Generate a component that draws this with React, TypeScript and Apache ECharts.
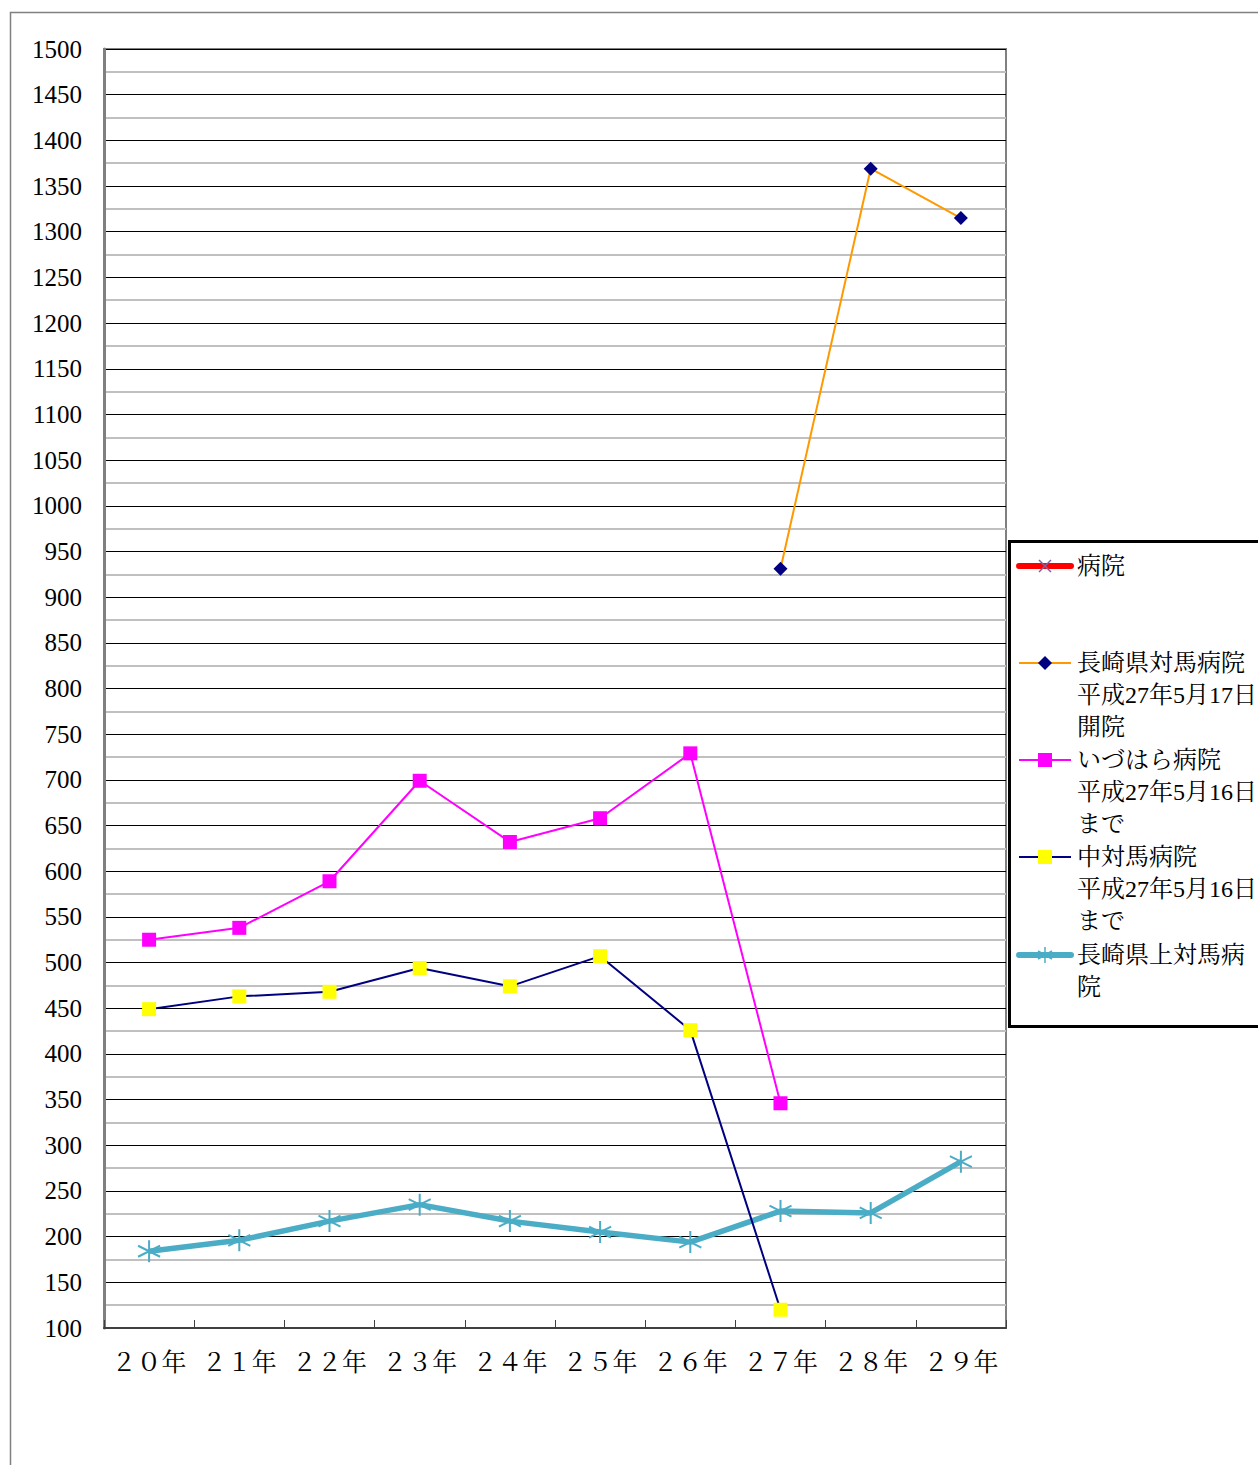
import React, { useEffect, useRef } from "react";
import * as echarts from "echarts";

const categories = ["２０年", "２１年", "２２年", "２３年", "２４年", "２５年", "２６年", "２７年", "２８年", "２９年"];
const hospital: (number | null)[] = [null, null, null, null, null, null, null, null, null, null];
const tsushimaHospital = [null, null, null, null, null, null, null, 931, 1369, 1315];
const izuharaHospital = [525, 538, 589, 699, 632, 658, 729, 346, null, null];
const nakaTsushimaHospital = [449, 463, 468, 494, 474, 507, 426, 120, null, null];
const kamiTsushimaHospital = [184, 196, 217, 235, 217, 205, 194, 228, 226, 282];

const seriesNames = [
  "病院",
  "長崎県対馬病院\n平成27年5月17日\n開院",
  "いづはら病院\n平成27年5月16日\nまで",
  "中対馬病院\n平成27年5月16日\nまで",
  "長崎県上対馬病\n院",
];

const yMin = 100;
const yMax = 1500;
const yStep = 50;

const FONT = "Liberation Serif, Noto Serif CJK JP, Noto Sans CJK JP, serif";
const ASTERISK = "path://M10,0L10,20M1.34,5L18.66,15M1.34,15L18.66,5";

export default function App() {
  const ref = useRef<HTMLDivElement>(null);
  useEffect(() => {
    if (!ref.current) return;
    const chart = echarts.init(ref.current, null, { renderer: "svg" });

    const lx = 1045;
    const tx = 1077;
    const legendItems: any[] = [];
    const addText = (text: string, y: number) => {
      text.split("\n").forEach((line, i) => {
        legendItems.push({
          type: "text",
          x: tx,
          y: y + i * 32,
          style: {
            text: line,
            fontSize: 24,
            fontFamily: FONT,
            fill: "#000",
            verticalAlign: "middle",
            align: "left",
          },
          z: 20,
        });
      });
    };
    // 病院
    legendItems.push({ type: "line", shape: { x1: 1019, y1: 566, x2: 1071, y2: 566 }, style: { stroke: "#FF0000", lineWidth: 6, lineCap: "round" }, z: 20 });
    legendItems.push({ type: "line", shape: { x1: lx - 6, y1: 560, x2: lx + 6, y2: 572 }, style: { stroke: "#7F60A8", lineWidth: 1.5 }, z: 21 });
    legendItems.push({ type: "line", shape: { x1: lx - 6, y1: 572, x2: lx + 6, y2: 560 }, style: { stroke: "#7F60A8", lineWidth: 1.5 }, z: 21 });
    addText(seriesNames[0], 566);
    // 長崎県対馬病院
    legendItems.push({ type: "line", shape: { x1: 1019, y1: 663, x2: 1071, y2: 663 }, style: { stroke: "#FF9900", lineWidth: 2 }, z: 20 });
    legendItems.push({ type: "polygon", shape: { points: [[lx, 656], [lx + 7, 663], [lx, 670], [lx - 7, 663]] }, style: { fill: "#000080" }, z: 21 });
    addText(seriesNames[1], 663);
    // いづはら
    legendItems.push({ type: "line", shape: { x1: 1019, y1: 760, x2: 1071, y2: 760 }, style: { stroke: "#FF00FF", lineWidth: 2 }, z: 20 });
    legendItems.push({ type: "rect", shape: { x: lx - 7, y: 753, width: 14, height: 14 }, style: { fill: "#FF00FF" }, z: 21 });
    addText(seriesNames[2], 760);
    // 中対馬
    legendItems.push({ type: "line", shape: { x1: 1019, y1: 857, x2: 1071, y2: 857 }, style: { stroke: "#000080", lineWidth: 2 }, z: 20 });
    legendItems.push({ type: "rect", shape: { x: lx - 7, y: 850, width: 14, height: 14 }, style: { fill: "#FFFF00" }, z: 21 });
    addText(seriesNames[3], 857);
    // 上対馬
    legendItems.push({ type: "line", shape: { x1: 1019, y1: 955, x2: 1071, y2: 955 }, style: { stroke: "#4BACC6", lineWidth: 6, lineCap: "round" }, z: 20 });
    legendItems.push({ type: "line", shape: { x1: lx, y1: 947, x2: lx, y2: 963 }, style: { stroke: "#4BACC6", lineWidth: 1.5 }, z: 21 });
    legendItems.push({ type: "line", shape: { x1: lx - 7, y1: 951, x2: lx + 7, y2: 959 }, style: { stroke: "#4BACC6", lineWidth: 1.5 }, z: 21 });
    legendItems.push({ type: "line", shape: { x1: lx - 7, y1: 959, x2: lx + 7, y2: 951 }, style: { stroke: "#4BACC6", lineWidth: 1.5 }, z: 21 });
    addText(seriesNames[4], 955);

    chart.setOption({
      animation: false,
      backgroundColor: "#fff",
      grid: {
        left: 104,
        top: 49,
        width: 902,
        height: 1279,
        show: true,
        borderColor: "#808080",
        borderWidth: 2,
        backgroundColor: "transparent",
      },
      xAxis: {
        type: "category",
        data: categories,
        boundaryGap: true,
        axisLine: { lineStyle: { color: "#404040", width: 2 } },
        axisTick: { show: true, inside: true, length: 8, lineStyle: { color: "#404040", width: 1 } },
        axisLabel: { fontSize: 25, color: "#000", margin: 22, fontFamily: FONT, interval: 0 },
        splitLine: { show: false },
      },
      yAxis: {
        type: "value",
        min: yMin,
        max: yMax,
        interval: yStep,
        axisLine: { show: true, lineStyle: { color: "#808080", width: 3 } },
        axisTick: { show: false },
        axisLabel: {
          fontSize: 25,
          color: "#000",
          margin: 22,
          fontFamily: FONT,
          formatter: (v: number) => String(v),
        },
        splitLine: { show: true, lineStyle: { color: "#000", width: 1 } },
        minorTick: { show: false, splitNumber: 2 },
        minorSplitLine: { show: true, lineStyle: { color: "#C0C0C0", width: 2 } },
      },
      series: [
        {
          name: seriesNames[0],
          type: "line",
          data: hospital,
          lineStyle: { color: "#FF0000", width: 5 },
          itemStyle: { color: "#7F60A8" },
          symbol: "none",
        },
        {
          name: seriesNames[4],
          type: "line",
          data: kamiTsushimaHospital,
          lineStyle: { color: "#4BACC6", width: 5.5 },
          symbol: ASTERISK,
          symbolSize: 22,
          itemStyle: { color: "#4BACC6", borderColor: "#4BACC6", borderWidth: 2 },
          z: 3,
        },
        {
          name: seriesNames[1],
          type: "line",
          data: tsushimaHospital,
          lineStyle: { color: "#FF9900", width: 2 },
          symbol: "diamond",
          symbolSize: 14,
          itemStyle: { color: "#000080" },
          z: 4,
        },
        {
          name: seriesNames[2],
          type: "line",
          data: izuharaHospital,
          lineStyle: { color: "#FF00FF", width: 2 },
          symbol: "rect",
          symbolSize: 14,
          itemStyle: { color: "#FF00FF" },
          z: 4,
        },
        {
          name: seriesNames[3],
          type: "line",
          data: nakaTsushimaHospital,
          lineStyle: { color: "#000080", width: 2 },
          symbol: "rect",
          symbolSize: 14,
          itemStyle: { color: "#FFFF00" },
          z: 5,
        },
      ],
      graphic: [
        {
          type: "rect",
          shape: { x: 10.5, y: 12.5, width: 1400, height: 1600 },
          style: { fill: "none", stroke: "#808080", lineWidth: 1.5 },
          z: -1,
          silent: true,
        },
        {
          type: "rect",
          shape: { x: 1009.5, y: 541.5, width: 300, height: 485 },
          style: { fill: "#fff", stroke: "#000", lineWidth: 3 },
          z: 19,
        },
        ...legendItems,
      ],
    });
    return () => chart.dispose();
  }, []);
  return (
    <div
      ref={ref}
      style={{ position: "fixed", left: 0, top: 0, width: 1258, height: 1465 }}
    />
  );
}
